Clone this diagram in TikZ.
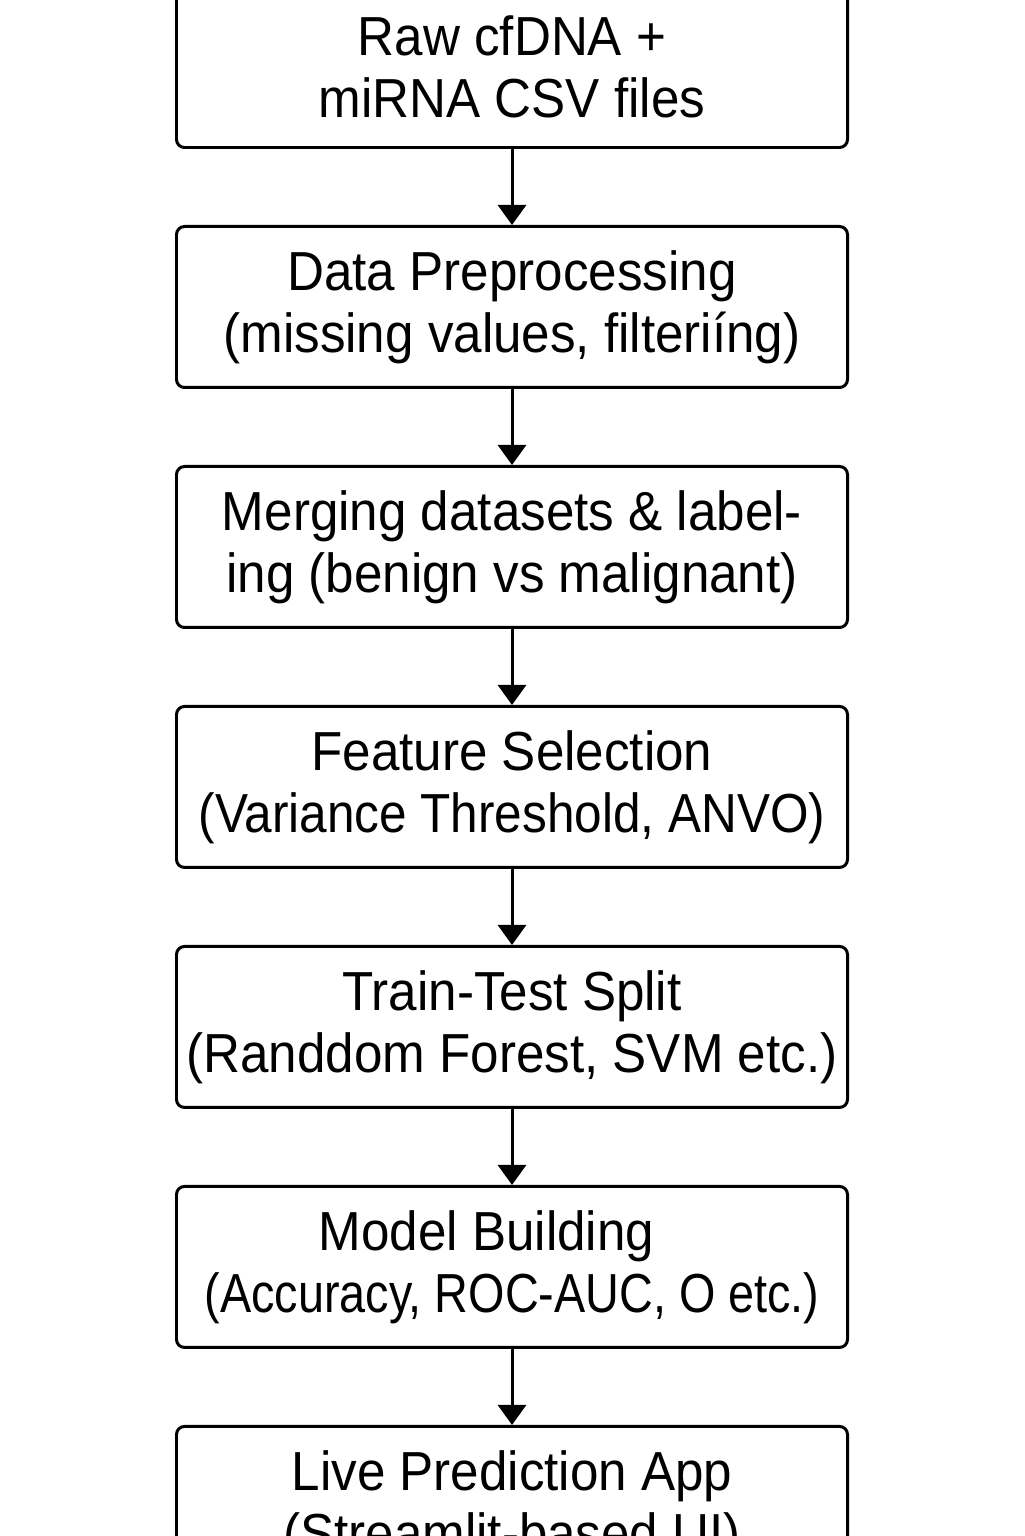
\documentclass[tikz,border=0pt]{standalone}
\usepackage{fontspec}
\setmainfont{Liberation Sans}
\usetikzlibrary{positioning,arrows.meta}
% two lines of a stage, pressed a little narrower
\newcommand{\stagetext}[3][0.93]{\scalebox{0.93}[1]{#2}\\\scalebox{#1}[1]{#3}}
\tikzset{
  stage/.style={draw, line width=1.7pt, rounded corners=0.16cm,
    minimum width=13.42cm, minimum height=3.22cm,
    align=center, inner sep=0pt, font=\fontsize{31.3}{35.3}\selectfont},
  flow/.style={line width=1.7pt, -{Triangle[length=0.4cm,width=0.56cm]}}
}
\begin{document}
\begin{tikzpicture}[node distance=1.52cm]
   \useasboundingbox (0,0) rectangle (20.48,-30.72);
   \clip (0,0) rectangle (20.48,-30.72);
   \node[stage] (raw)   at (10.24,-1.34) {\stagetext{Raw cfDNA +}{miRNA CSV files}};
   \node[stage, below=of raw]   (prep)  {\stagetext{Data Preprocessing}{(missing values, filteriíng)}};
   \node[stage, below=of prep]  (merge) {\stagetext{Merging datasets \& label-}{ing (benign vs malignant)}};
   \node[stage, below=of merge] (feat)  {\stagetext[0.9]{Feature Selection}{(Variance Threshold, ANVO)}};
   \node[stage, below=of feat]  (split) {\stagetext{Train-Test Split}{(Randdom Forest, SVM etc.)}};
   \node[stage, below=of split] (model) {\stagetext[0.85]{Model Building\hspace*{1.1cm}}{(Accuracy, ROC-AUC, O etc.)}};
   \node[stage, below=of model] (app)   {\stagetext{Live Prediction App}{(Streamlit-based UI)}};
   % arrows between stages
   \draw[flow] (raw)   -- (prep);
   \draw[flow] (prep)  -- (merge);
   \draw[flow] (merge) -- (feat);
   \draw[flow] (feat)  -- (split);
   \draw[flow] (split) -- (model);
   \draw[flow] (model) -- (app);
\end{tikzpicture}
\end{document}
